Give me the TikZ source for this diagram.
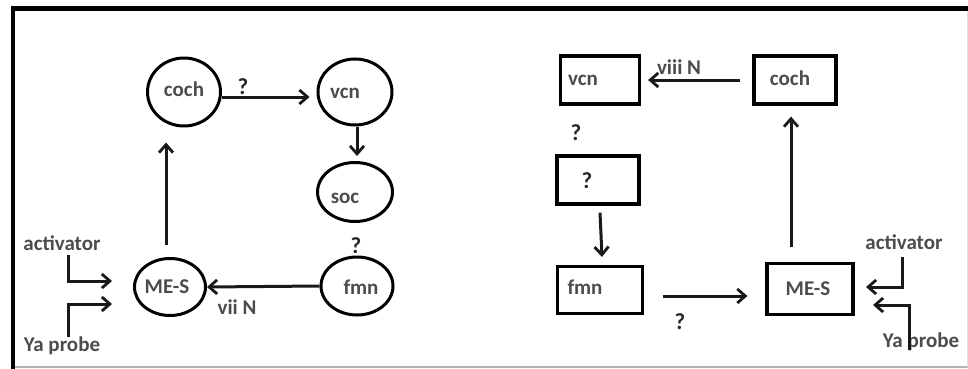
\documentclass[tikz,border=0pt]{standalone}
\usepackage{fontspec}
\setmainfont{Carlito}
\usetikzlibrary{shapes.geometric,arrows.meta}
\begin{document}
\begin{tikzpicture}[x=1pt,y=-1pt,
  ell/.style={draw=black,line width=3pt,ellipse,inner sep=0pt},
  box/.style={draw=black,line width=3.2pt,rectangle,inner sep=0pt},
  txt/.style={inner sep=0pt,text=black!70,font=\fontsize{21}{24}\selectfont\bfseries},
  qm/.style={inner sep=0pt,text=black!85,font=\fontsize{23}{26}\selectfont\bfseries},
  arr/.style={draw=black!90,line width=3pt,-{Straight Barb[length=8pt,width=14pt,line width=2.8pt]}}]
\useasboundingbox (0,0) rectangle (968,369);
\fill[white] (0,0) rectangle (968,369);

% frame
\draw[black,line width=5pt] (11,8.5) -- (968,8.5);
\draw[black,line width=4pt] (13,6) -- (13,369);
\draw[black!30,line width=1.5pt] (15,367) -- (968,367);
\draw[black!12,line width=1pt] (967,11) -- (967,367);

% ---------- left: ellipses ----------
\node[ell,minimum width=73pt,minimum height=68pt] (coch) at (184,92) {};
\node[ell,minimum width=74pt,minimum height=66pt] (vcn) at (355,92) {};
\node[ell,minimum width=75pt,minimum height=59pt] (soc) at (355,192) {};
\node[ell,minimum width=72pt,minimum height=58pt] (fmn) at (357,286) {};
\node[ell,minimum width=71pt,minimum height=57pt] (mes) at (170,287) {};

\node[txt] (cochT) at (184,89) {coch};
\node[txt] (vcnT) at (345,93) {vcn};
\node[txt] (socT) at (345,198) {soc};
\node[txt] (fmnT) at (361,287) {fmn};
\node[txt] (mesT) at (167,287) {ME-S};

\draw[arr] ([yshift=-5pt]coch.east) -- ([yshift=-5pt,xshift=-7pt]vcn.west);
\draw[arr] ([xshift=2pt]vcn.south) -- ([xshift=2pt,yshift=5pt]soc.north);
\draw[arr] ([xshift=-4pt,yshift=12pt]mes.north) -- ([xshift=-18pt,yshift=-15pt]coch.south);
\draw[arr] (fmn.west) -- (mes.east);

\node[qm] (q1) at (243,87) {?};
\node[qm] (q2) at (356,246) {?};
\node[txt] (vii) at (237,307) {vii N};

\node[txt] (act) at (62,243) {activator};
\node[txt] (yap) at (62,346) {Ya probe};
\coordinate (actTop) at (68,255);
\coordinate (actTip) at (112,281);
\coordinate (yapBot) at (68,337);
\coordinate (yapTip) at (112,304);
\draw[arr] (actTop) |- (actTip);
\draw[arr] (yapBot) |- (yapTip);

% ---------- right: boxes ----------
\node[box,minimum width=79pt,minimum height=48pt] (rvcn) at (600,80) {};
\node[box,minimum width=82pt,minimum height=48pt] (rcoch) at (795,80) {};
\node[box,minimum width=82pt,minimum height=48pt] (qbox) at (598,180) {};
\node[box,minimum width=85pt,minimum height=47pt] (rfmn) at (600,290) {};
\node[box,minimum width=86pt,minimum height=51pt] (rmes) at (810,289) {};

\node[txt] (rvcnT) at (583,80) {vcn};
\node[txt] (rcochT) at (790,78) {coch};
\node[qm] (qboxT) at (587,181) {?};
\node[txt] (rfmnT) at (585,287) {fmn};
\node[txt] (rmesT) at (808,289) {ME-S};

\draw[arr] (rcoch.west) ++(-12pt,0) -- ([xshift=7pt]rvcn.east);
\draw[arr] ([xshift=2pt,yshift=-7pt]qbox.south) -- ([xshift=2pt,yshift=8pt]rfmn.north);
\draw[arr] ([xshift=19pt,yshift=-6pt]rfmn.east) -- ([xshift=-18pt,yshift=-7pt]rmes.west);
\draw[arr] ([xshift=-19pt,yshift=15pt]rmes.north) -- ([xshift=-4pt,yshift=-11pt]rcoch.south);

\node[txt] (viii) at (679,67) {viii N};
\node[qm] (q3) at (576,133) {?};
\node[qm] (q4) at (680,322) {?};

\node[txt] (ract) at (904,242) {activator};
\node[txt] (ryap) at (921,342) {Ya probe};
\coordinate (ractTop) at (902,257);
\coordinate (ractTip) at (866,287);
\coordinate (ryapBot) at (909,350);
\coordinate (ryapTip) at (873,305);
\draw[arr] (ractTop) |- (ractTip);
\draw[arr] (ryapBot) |- (ryapTip);
\end{tikzpicture}
\end{document}
